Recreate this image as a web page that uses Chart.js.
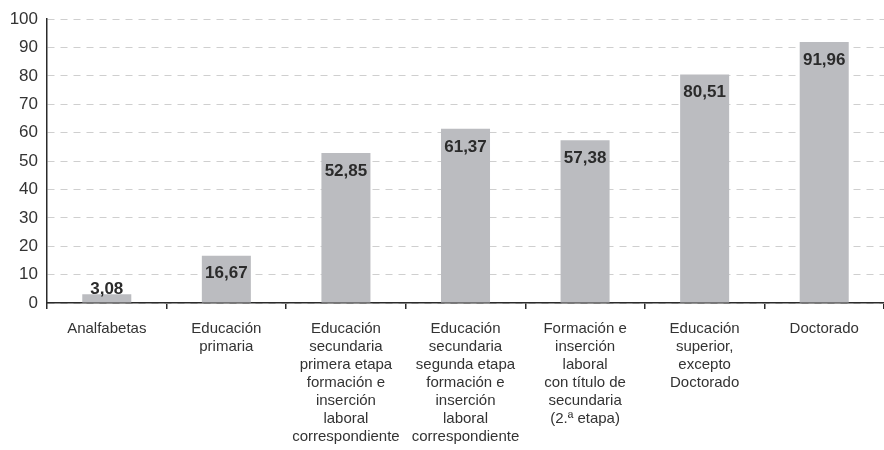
<!DOCTYPE html>
<html>
<head>
<meta charset="utf-8">
<script src="https://cdn.jsdelivr.net/npm/chart.js@4"></script>
<style>
  html, body { margin: 0; padding: 0; background: #fff; }
  #wrap { width: 884px; height: 450px; }
</style>
</head>
<body>
<div id="wrap"><canvas id="chart"></canvas></div>
<script>
const CATEGORIES = [
  ['Analfabetas'],
  ['Educación', 'primaria'],
  ['Educación', 'secundaria', 'primera etapa', 'formación e', 'inserción', 'laboral', 'correspondiente'],
  ['Educación', 'secundaria', 'segunda etapa', 'formación e', 'inserción', 'laboral', 'correspondiente'],
  ['Formación e', 'inserción', 'laboral', 'con título de', 'secundaria', '(2.ª etapa)'],
  ['Educación', 'superior,', 'excepto', 'Doctorado'],
  ['Doctorado']
];
const VALUES = [3.08, 16.67, 52.85, 61.37, 57.38, 80.51, 91.96];
const Y_TICKS = [0, 10, 20, 30, 40, 50, 60, 70, 80, 90, 100];

const FONT = "'Liberation Sans', 'Helvetica Neue', Arial, sans-serif";
const BAR_GREY = '#bbbcc0';
const TEXT_DARK = '#2b2b2b';

const valueLabels = {
  id: 'valueLabels',
  afterDatasetsDraw(chart) {
    const ctx = chart.ctx;
    const meta = chart.getDatasetMeta(0);
    const base = chart.scales.y.getPixelForValue(0);
    ctx.save();
    ctx.font = "bold 17px " + FONT;
    ctx.fillStyle = TEXT_DARK;
    ctx.textAlign = 'center';
    ctx.textBaseline = 'middle';
    meta.data.forEach((bar, i) => {
      const y = Math.min(bar.y + 18, base - 14);
      ctx.fillText(VALUES[i].toFixed(2).replace('.', ','), bar.x, y);
    });
    ctx.restore();
  }
};

new Chart(document.getElementById('chart').getContext('2d'), {
  type: 'bar',
  data: {
    labels: CATEGORIES,
    datasets: [{
      data: VALUES,
      backgroundColor: BAR_GREY,
      borderWidth: 0,
      categoryPercentage: 1,
      barPercentage: 0.41
    }]
  },
  options: {
    responsive: true,
    maintainAspectRatio: false,
    animation: false,
    layout: { padding: { top: 8, right: 0, left: 0, bottom: 0 } },
    plugins: { legend: { display: false }, tooltip: { enabled: false } },
    scales: {
      x: {
        offset: true,
        grid: {
          offset: true,
          drawOnChartArea: false,
          drawTicks: true,
          tickLength: 6,
          color: TEXT_DARK,
          lineWidth: 1.5
        },
        border: { display: true, color: TEXT_DARK, width: 1.5 },
        ticks: {
          autoSkip: false,
          maxRotation: 0,
          minRotation: 0,
          color: '#333',
          padding: 11,
          font: { family: FONT, size: 15, lineHeight: 1.2 }
        },
        afterFit(scale) { scale.height = 147; }
      },
      y: {
        min: 0,
        max: 100,
        afterBuildTicks(scale) { scale.ticks = Y_TICKS.map(v => ({ value: v })); },
        grid: {
          color: '#cfcfcf',
          lineWidth: 1,
          drawTicks: false
        },
        border: { display: true, color: TEXT_DARK, width: 1.5, dash: [7, 6] },
        ticks: {
          color: '#333',
          padding: 9,
          font: { family: FONT, size: 17 }
        },
        afterFit(scale) { scale.width = 47; }
      }
    }
  },
  plugins: [valueLabels]
});
</script>
</body>
</html>
